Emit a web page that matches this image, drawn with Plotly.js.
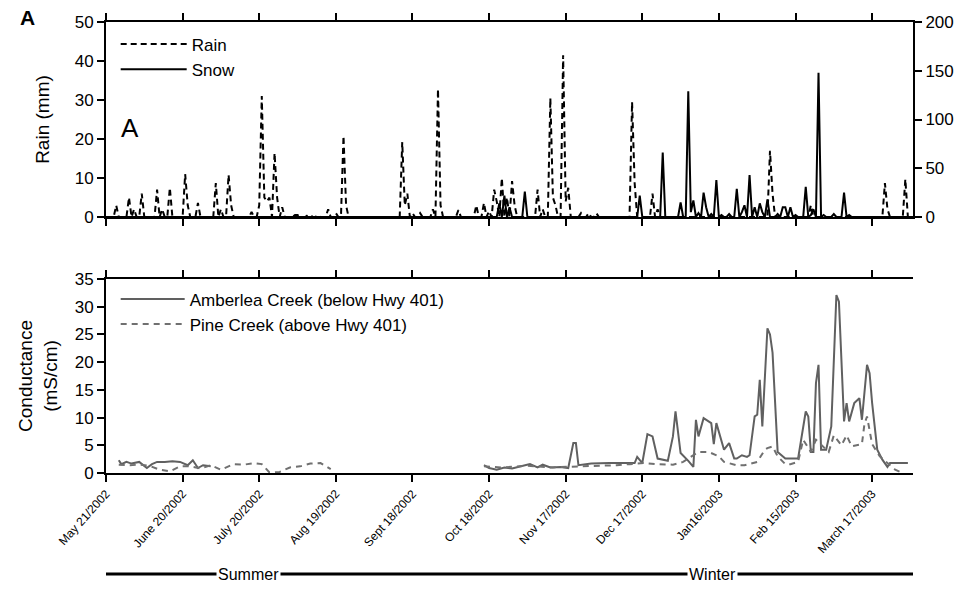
<!DOCTYPE html>
<html>
<head>
<meta charset="utf-8">
<script src="https://cdn.plot.ly/plotly-3.0.1.min.js"></script>
<style>html,body{margin:0;padding:0;background:#fff;}#chart{width:973px;height:589px;}</style>
</head>
<body>
<div id="chart"></div>
<script>
// ---- data (x values are days since May 21, 2002) ----
const START_DATE = '2002-05-21';
const LAST_DAY = 316;

// Rain (mm, left axis): days with rain; all other days read as 0
const rainDays = [4, 9, 11, 14, 20, 22, 25, 31, 32, 36, 43, 45, 48, 49, 57, 60, 61, 62, 63, 64, 66, 67, 69,
  74, 75, 79, 80, 83, 87, 90, 93, 94, 116, 117, 118, 120, 123, 128, 130, 131, 138, 145, 148, 150, 152, 153,
  155, 157, 159, 160, 169, 171, 174, 175, 176, 179, 180, 181, 186, 189, 192, 206, 207, 214, 216, 260, 261,
  276, 305, 306, 313];
const rainMm = [3, 5, 2, 6, 7, 2, 7.5, 11, 3, 3.6, 8.7, 2, 10.8, 3, 1.3, 3, 31, 5, 4, 5, 16.4, 5, 2.5,
  0.5, 0.5, 0.5, 0.5, 0.5, 2, 1, 20.8, 3, 19.2, 3, 6, 1, 1, 2, 32.8, 3, 1.8, 3, 3.6, 1.5, 7, 4,
  10, 5, 9.2, 3, 7, 2, 30.5, 5, 3, 41.5, 4, 7.5, 1, 1, 1, 29.5, 8.7, 6, 2, 17, 6,
  3, 8.7, 2, 9.7];

// Snow (mm, right axis): days with snow; all other days read as 0
const snowDays = [154, 156, 158, 164, 209, 218, 225, 228, 229, 230, 232, 234, 235, 237, 239, 241, 244, 247, 249,
  250, 252, 254, 256, 257, 259, 263, 265, 266, 268, 270, 274, 276, 277, 279, 281, 285, 289, 291];
const snowMm = [14, 22, 10, 26, 22, 66, 15, 129, 5, 17, 4, 25, 10, 3, 38, 2, 3, 29, 5,
  12, 43, 10, 14, 5, 18, 3, 10, 10, 10, 2, 31, 2, 8, 148, 2, 3, 25, 2];

// Conductance (mS/cm)
const amberDays = [5, 6, 8, 10, 13, 16, 18, 20, 23, 26, 29, 32, 34, 36, 38, 41, null,
  148, 150, 153, 156, 159, 163, 166, 169, 171, 174, 178, 181, 183, 184, 185, 190, 197, 207, 208, 210, 212,
  214, 216, 220, 222, 223, 225, 228, 230, 231, 232, 234, 236, 237, 238, 239, 242, 244, 246, 247, 249, 251,
  252, 254, 255, 256, 257, 258, 259, 260, 261, 263, 266, 271, 274, 275, 276, 277, 278, 279, 280, 282, 284,
  286, 287, 289, 290, 291, 293, 295, 296, 298, 299, 300, 302, 304, 306, 307, 314];
const amberCond = [2.3, 1.6, 2.0, 1.7, 2.0, 0.9, 1.6, 2.0, 2.0, 2.1, 2.0, 1.4, 2.3, 0.9, 1.4, 1.2, null,
  1.4, 0.9, 0.6, 1.0, 0.8, 1.2, 1.6, 1.0, 1.5, 1.0, 1.1, 0.9, 5.4, 5.4, 1.4, 1.7, 1.8, 1.8, 2.9, 1.8, 7.0,
  6.6, 2.6, 2.2, 6.6, 11.1, 3.6, 2.2, 1.1, 9.6, 6.6, 9.9, 9.3, 9.0, 5.2, 9.0, 4.2, 5.4, 2.6, 2.6, 3.2, 2.9,
  3.2, 10.2, 10.5, 16.8, 8.4, 18.6, 26.1, 25.0, 21.7, 3.8, 2.6, 2.6, 11.1, 10.2, 3.8, 3.8, 16.2, 19.5, 4.2, 4.2, 8.4,
  32.1, 30.9, 9.3, 12.6, 9.3, 12.6, 13.5, 9.6, 19.5, 18.0, 12.6, 4.2, 2.4, 1.1, 1.8, 1.8];

const pineDays = [5, 9, 13, 17, 21, 25, 29, 33, 37, 41, 45, 50, 54, 58, 61, 64, 68, 72, 76, 80, 84, 88, null,
  148, 155, 165, 175, 185, 195, 200, 205, 211, 215, 222, 226, 232, 236, 240, 242, 247, 250, 255, 258, 259,
  261, 263, 266, 268, 271, 273, 276, 278, 283, 285, 288, 290, 292, 296, 297, 298, 300, 303, 306, 309, 311];
const pineCond = [1.5, 1.4, 1.5, 1.3, 0.6, 0.3, 1.2, 1.2, 0.8, 1.4, 0.6, 1.6, 1.5, 1.8, 1.6, 0.1, 0.2, 1.0, 1.2, 1.7, 1.8, 0.7, null,
  1.2, 1.0, 1.3, 1.0, 1.2, 1.3, 1.4, 1.6, 1.8, 1.6, 1.5, 2.0, 3.8, 3.8, 3.0, 2.0, 1.4, 1.4, 2.0, 4.2, 4.5,
  4.8, 3.0, 1.6, 1.6, 2.0, 6.0, 3.8, 6.0, 3.8, 6.8, 5.0, 6.8, 4.8, 5.2, 8.9, 10.2, 5.2, 3.0, 1.8, 0.6, 0.2];

const tickDates = ['2002-05-21', '2002-06-20', '2002-07-20', '2002-08-19', '2002-09-18', '2002-10-18',
  '2002-11-17', '2002-12-17', '2003-01-16', '2003-02-15', '2003-03-17'];
const tickLabels = ['May 21/2002', 'June 20/2002', 'July 20/2002', 'Aug 19/2002', 'Sept 18/2002', 'Oct 18/2002',
  'Nov 17/2002', 'Dec 17/2002', 'Jan16/2003', 'Feb 15/2003', 'March 17/2003'];

// ---- helpers ----
const startMs = Date.parse(START_DATE + 'T00:00:00Z');
const toDate = d => d === null ? null : new Date(startMs + d * 86400000).toISOString().slice(0, 10);
function dailySeries(days, vals) {
  const x = [], y = [];
  const map = {};
  days.forEach((d, i) => { map[d] = vals[i]; });
  for (let d = 0; d <= LAST_DAY; d++) { x.push(toDate(d)); y.push(map[d] !== undefined ? map[d] : 0); }
  return {x, y};
}
const rain = dailySeries(rainDays, rainMm);
const snow = dailySeries(snowDays, snowMm);

const FONT = 'Liberation Sans, Arial, Helvetica, sans-serif';

const traces = [
  {x: rain.x, y: rain.y, name: 'Rain', type: 'scatter', mode: 'lines', xaxis: 'x2', yaxis: 'y2',
   line: {color: '#000', width: 2, dash: '6px,4px'}, legend: 'legend'},
  {x: snow.x, y: snow.y, name: 'Snow', type: 'scatter', mode: 'lines', xaxis: 'x2', yaxis: 'y3',
   line: {color: '#000', width: 2}, legend: 'legend'},
  {x: amberDays.map(toDate), y: amberCond, name: 'Amberlea Creek (below Hwy 401)', type: 'scatter', mode: 'lines',
   xaxis: 'x', yaxis: 'y', line: {color: '#606060', width: 2}, legend: 'legend2', connectgaps: false},
  {x: pineDays.map(toDate), y: pineCond, name: 'Pine Creek (above Hwy 401)', type: 'scatter', mode: 'lines',
   xaxis: 'x', yaxis: 'y', line: {color: '#707070', width: 2, dash: '6px,5px'}, legend: 'legend2', connectgaps: false}
];

const axisCommon = {showline: true, linecolor: '#000', linewidth: 2, ticks: 'outside', ticklen: 7, tickwidth: 2,
  tickcolor: '#000', showgrid: false, zeroline: false, tickfont: {family: FONT, size: 17, color: '#000'}};
const xRange = [toDate(0), toDate(LAST_DAY)];

const layout = {
  width: 973, height: 589,
  margin: {l: 106, r: 60, t: 22, b: 116},
  paper_bgcolor: '#fff', plot_bgcolor: '#fff',
  font: {family: FONT, color: '#000'},
  xaxis: Object.assign({}, axisCommon, {type: 'date', range: xRange, anchor: 'y', mirror: 'ticks',
    tickmode: 'array', tickvals: tickDates, ticktext: tickLabels, tickangle: -48,
    tickfont: {family: FONT, size: 12, color: '#000'}}),
  xaxis2: Object.assign({}, axisCommon, {type: 'date', range: xRange, anchor: 'y2', matches: 'x', mirror: 'ticks',
    tickmode: 'array', tickvals: tickDates, showticklabels: false}),
  yaxis: Object.assign({}, axisCommon, {domain: [0, 0.4302], range: [0, 35], dtick: 5, anchor: 'x',
    title: {text: 'Conductance<br>(mS/cm)', font: {family: FONT, size: 19}, standoff: 12}}),
  yaxis4: Object.assign({}, axisCommon, {overlaying: 'y', side: 'right', range: [0, 4], dtick: 1,
    showticklabels: false, anchor: 'x'}),
  yaxis2: Object.assign({}, axisCommon, {domain: [0.5676, 1], range: [0, 50], dtick: 10, anchor: 'x2',
    title: {text: 'Rain (mm)', font: {family: FONT, size: 19}, standoff: 20}}),
  yaxis3: Object.assign({}, axisCommon, {overlaying: 'y2', side: 'right', range: [0, 200], dtick: 50, anchor: 'x2'}),
  showlegend: true,
  legend: {x: 0.012, y: 0.99, xanchor: 'left', yanchor: 'top', bgcolor: 'rgba(0,0,0,0)',
    font: {family: FONT, size: 17}, itemwidth: 66, tracegroupgap: 0},
  legend2: {x: 0.012, y: 0.425, xanchor: 'left', yanchor: 'top', bgcolor: 'rgba(0,0,0,0)',
    font: {family: FONT, size: 17}, itemwidth: 64, tracegroupgap: 0},
  shapes: [
    {type: 'line', xref: 'paper', yref: 'paper', x0: 0, x1: 1, y0: -0.224, y1: -0.224,
     line: {color: '#000', width: 3}}
  ],
  annotations: [
    {text: '<b>A</b>', xref: 'paper', yref: 'paper', x: -0.097, y: 1.01, xanchor: 'center', yanchor: 'middle',
     showarrow: false, font: {family: FONT, size: 21}},
    {text: 'A', xref: 'paper', yref: 'paper', x: 0.03, y: 0.765, xanchor: 'center', yanchor: 'middle',
     showarrow: false, font: {family: FONT, size: 26}},
    {text: 'Summer', xref: 'paper', yref: 'paper', x: 0.176, y: -0.224, xanchor: 'center', yanchor: 'middle',
     showarrow: false, bgcolor: '#fff', borderpad: 1, font: {family: FONT, size: 16}},
    {text: 'Winter', xref: 'paper', yref: 'paper', x: 0.751, y: -0.224, xanchor: 'center', yanchor: 'middle',
     showarrow: false, bgcolor: '#fff', borderpad: 1, font: {family: FONT, size: 16}}
  ]
};

Plotly.newPlot('chart', traces, layout, {displayModeBar: false, staticPlot: true});
</script>
</body>
</html>
